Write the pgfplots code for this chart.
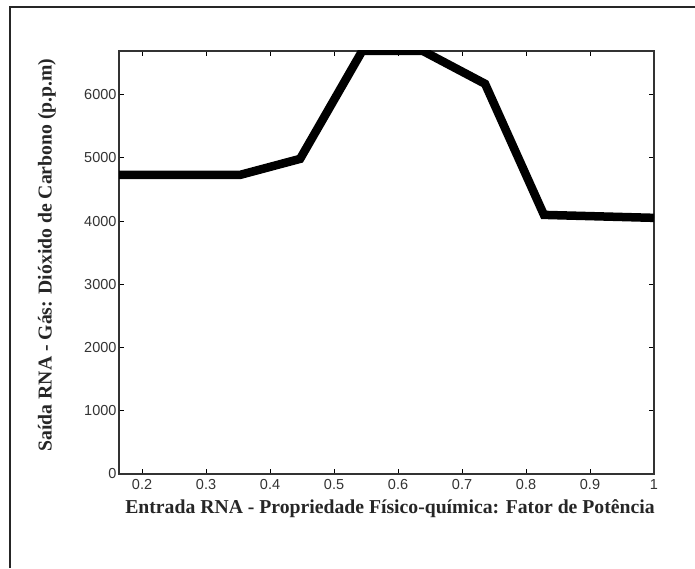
\documentclass[border=0pt]{standalone}
\usepackage{fontspec}
\setmainfont{Liberation Serif}
\newfontfamily\arial{Liberation Sans}
\usepackage{pgfplots}
\pgfplotsset{compat=1.18}
\begin{document}
\begin{tikzpicture}
\path[use as bounding box] (0pt,0pt) rectangle (695pt,568pt);
\draw[line width=1.6pt, black!85] (10pt,0pt) -- (10pt,561pt) -- (695pt,561pt);
\begin{axis}[
  at={(119pt,94pt)}, anchor=south west,
  scale only axis, width=535pt, height=423pt,
  xmin=0.164, xmax=1, ymin=0, ymax=6690,
  xtick={0.2,0.3,0.4,0.5,0.6,0.7,0.8,0.9,1},
  ytick={0,1000,2000,3000,4000,5000,6000},
  scaled y ticks=false, scaled x ticks=false,
  /pgf/number format/1000 sep={},
  /pgf/number format/assume math mode=true,
  tick align=inside, major tick length=5pt,
  tick style={line width=0.9pt, black},
  axis line style={line width=1.3pt, black!80},
  ticklabel style={font=\arial\fontsize{14.5}{16}\selectfont, text=black!80},
  xticklabel style={yshift=-2pt},
  yticklabel style={xshift=1pt},
  xlabel={Entrada RNA - Propriedade Físico-química: Fator de Potência},
  ylabel={Saída RNA - Gás: Dióxido de Carbono (p.p.m)},
  label style={font=\bfseries\fontsize{19.7}{22}\selectfont, text=black!85},
  xlabel style={at={(axis description cs:0.5065,-0.082)}, anchor=center},
  ylabel style={at={(axis description cs:-0.1346,0.518)}, anchor=center},
  clip=true,
]
\addplot[black, line width=8.5pt, line join=miter] coordinates {
  (0.164,4730) (0.353,4730) (0.447,4984) (0.544,6690) (0.639,6690)
  (0.736,6171) (0.828,4098) (1.0,4051)
};
\end{axis}
\end{tikzpicture}
\end{document}
